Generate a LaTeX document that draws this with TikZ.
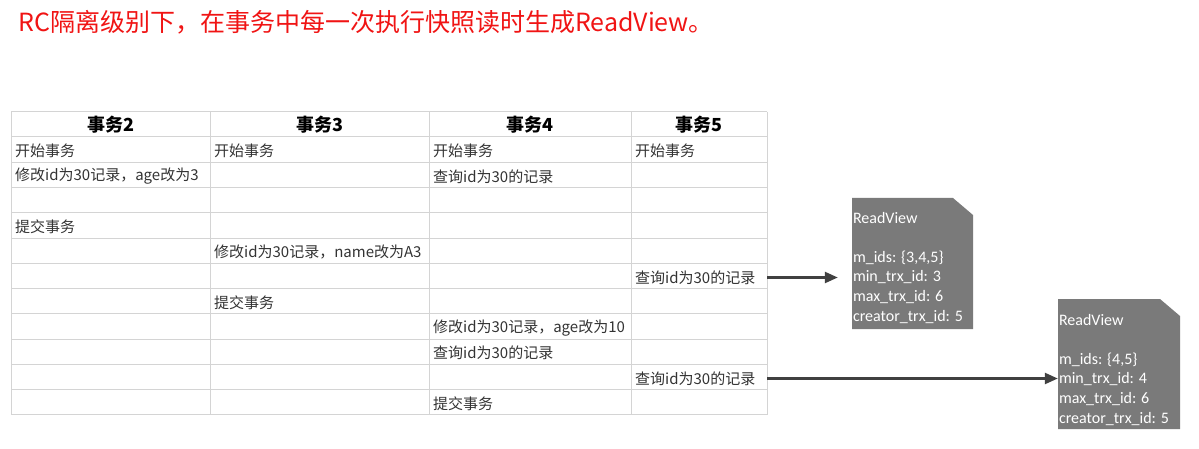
\documentclass[tikz,border=0pt]{standalone}
\usepackage{fontspec}
\setmainfont{Liberation Sans}
\newfontfamily\cjk{Noto Sans CJK SC}
\newfontfamily\rvfont{Carlito}
\usetikzlibrary{positioning,arrows.meta}
\definecolor{titlered}{RGB}{240,20,20}
\definecolor{gridgray}{RGB}{212,212,212}
\definecolor{rvgray}{RGB}{122,122,122}
\definecolor{arrowgray}{RGB}{64,64,64}
\tikzset{
  grid/.style={draw=gridgray, line width=1pt},
  head/.style={font=\cjk\bfseries\fontsize{18}{20}\selectfont, inner sep=0pt},
  cell/.style={font=\cjk\fontsize{15}{17}\selectfont, text=black!80, anchor=west, inner sep=0pt},
  rvbox/.style={minimum width=121pt, minimum height=131pt, inner sep=0pt,
    path picture={\fill[rvgray] (path picture bounding box.north west)
      -- ([xshift=-20pt]path picture bounding box.north east)
      -- ([yshift=-17pt]path picture bounding box.north east)
      -- (path picture bounding box.south east)
      -- (path picture bounding box.south west) -- cycle;}},
  rvtext/.style={font=\rvfont\fontsize{16}{19.6}\selectfont, text=white, align=left, inner sep=0pt, anchor=north west},
  arr/.style={draw=arrowgray, line width=2.4pt, -{Triangle[length=13pt,width=11pt]}}
}
\begin{document}
\begin{tikzpicture}[x=1pt,y=-1pt]
    \useasboundingbox (0,0) rectangle (1199,449);
    \node[font=\cjk\fontsize{25}{28}\selectfont, text=titlered, anchor=west, inner sep=0pt] (title) at (18,22)
        {RC隔离级别下，在事务中每一次执行快照读时生成ReadView。};
    % table grid
    \draw[grid] (11,112) -- (767,112);
    \foreach \k in {0,...,11}
        \draw[grid] (11,{137+25.27*\k}) -- (767,{137+25.27*\k});
    \foreach \x in {11,210,429,631,767}
        \draw[grid] (\x,112) -- (\x,415);
    \coordinate (tr) at (767,112);
    % headers
    \node[head] (h2) at (110.5,125) {事务2};
    \node[head] (h3) at (319.5,125) {事务3};
    \node[head] (h4) at (530,125) {事务4};
    \node[head] (h5) at (699,125) {事务5};
    % rows
    \node[cell] (c11) at (15,151) {开始事务};
    \node[cell] (c12) at (214,151) {开始事务};
    \node[cell] (c13) at (433,151) {开始事务};
    \node[cell] (c14) at (635,151) {开始事务};
    \node[cell] (c21) at (15,176.5) {修改id为30记录，age改为3};
    \node[cell] (c23) at (433,176.5) {查询id为30的记录};
    \node[cell] (c41) at (15,227) {提交事务};
    \node[cell] (c52) at (214,252) {修改id为30记录，name改为A3};
    \node[cell] (c64) at (635,277.5) {查询id为30的记录};
    \node[cell] (c72) at (214,302.5) {提交事务};
    \node[cell] (c83) at (433,328) {修改id为30记录，age改为10};
    \node[cell] (c93) at (433,353) {查询id为30的记录};
    \node[cell] (c104) at (635,378.5) {查询id为30的记录};
    \node[cell] (c113) at (433,404) {提交事务};
    % read views
    \node[rvbox] (rv1) at (912.5,263.5) {};
    \node[rvtext] (rv1t) at ([xshift=1pt,yshift=-14pt]rv1.north west)
        {ReadView\\[19.6pt]m\_ids: \{3,4,5\}\\min\_trx\_id: 3\\max\_trx\_id: 6\\creator\_trx\_id: 5};
    \node[rvbox, minimum width=122pt, minimum height=130pt] (rv2) at (1119,364) {};
    \node[rvtext] (rv2t) at ([xshift=1pt,yshift=-15pt]rv2.north west)
        {ReadView\\[19.6pt]m\_ids: \{4,5\}\\min\_trx\_id: 4\\max\_trx\_id: 6\\creator\_trx\_id: 5};
    \draw[arr, shorten >=14pt] (tr |- c64) -- (rv1.west |- c64);
    \draw[arr] (tr |- c104) -- (rv2.west |- c104);
\end{tikzpicture}
\end{document}
